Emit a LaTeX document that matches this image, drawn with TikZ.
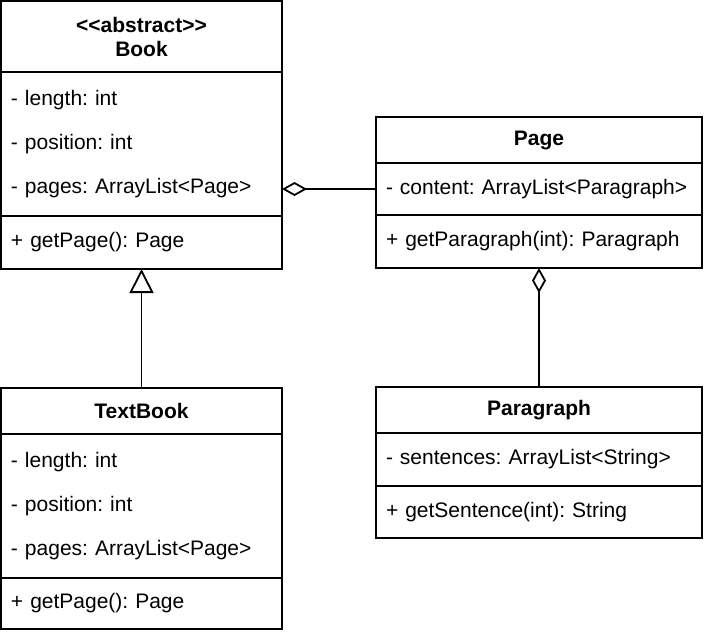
\documentclass[tikz,border=0pt]{standalone}
\usepackage{fontspec}
\setmainfont{Liberation Sans}
\frenchspacing
\usetikzlibrary{positioning, arrows.meta}
\tikzstyle{classhead} = [rectangle, draw=black, line width=0.9pt, outer sep=0pt, inner xsep=5pt, align=center, font=\fontsize{10.5}{12}\selectfont\bfseries]
\tikzstyle{classbody} = [rectangle, draw=black, line width=0.9pt, outer sep=0pt, inner xsep=5pt, inner ysep=0pt, align=left, font=\fontsize{10.5}{22}\selectfont]
\tikzstyle{booksize} = [text width=130.5pt]
\tikzstyle{pagesize} = [text width=153pt]
\tikzstyle{inherit} = [line width=0.9pt, -{Triangle[open, length=12pt, width=12pt]}]
\tikzstyle{aggregate} = [line width=0.9pt, -{Diamond[open, length=12.5pt, width=7pt]}]

\begin{document}
\begin{tikzpicture}[node distance=59.5pt]
\useasboundingbox (-0.5pt,0.5pt) rectangle (351.5pt,-316.5pt);

% Nodes
\node (bookhead) [classhead, booksize, minimum height=35.5pt, anchor=north west] at (0,0) {{<}{<}abstract{>}{>}\\Book};
\node (bookattr) [classbody, booksize, minimum height=72pt, below=0pt of bookhead] {- length: int\\- position: int\\- pages: ArrayList<Page>};
\node (bookmeth) [classbody, booksize, minimum height=26.5pt, below=0pt of bookattr] {+ getPage(): Page};

\node (pagehead) [classhead, pagesize, minimum height=23pt, below right=58pt and 47pt of bookhead.north east] {Page};
\node (pageattr) [classbody, pagesize, minimum height=26pt, below=0pt of pagehead] {- content: ArrayList<Paragraph>};
\node (pagemeth) [classbody, pagesize, minimum height=26.5pt, below=0pt of pageattr] {+ getParagraph(int): Paragraph};

\node (textbookhead) [classhead, booksize, minimum height=23pt, below=of bookmeth] {TextBook};
\node (textbookattr) [classbody, booksize, minimum height=72pt, below=0pt of textbookhead] {- length: int\\- position: int\\- pages: ArrayList<Page>};
\node (textbookmeth) [classbody, booksize, minimum height=25.5pt, below=0pt of textbookattr] {+ getPage(): Page};

\node (paraghead) [classhead, pagesize, minimum height=23pt, below=of pagemeth] {Paragraph};
\node (paragattr) [classbody, pagesize, minimum height=26.5pt, below=0pt of paraghead] {- sentences: ArrayList<String>};
\node (paragmeth) [classbody, pagesize, minimum height=26pt, below=0pt of paragattr] {+ getSentence(int): String};

% Arrows
\draw [inherit] (textbookhead.north) -- (bookmeth.south);
\draw [aggregate] (pageattr.west) -- (pageattr.west -| bookattr.east);
\draw [aggregate] (paraghead.north) -- (pagemeth.south);

\end{tikzpicture}
\end{document}
